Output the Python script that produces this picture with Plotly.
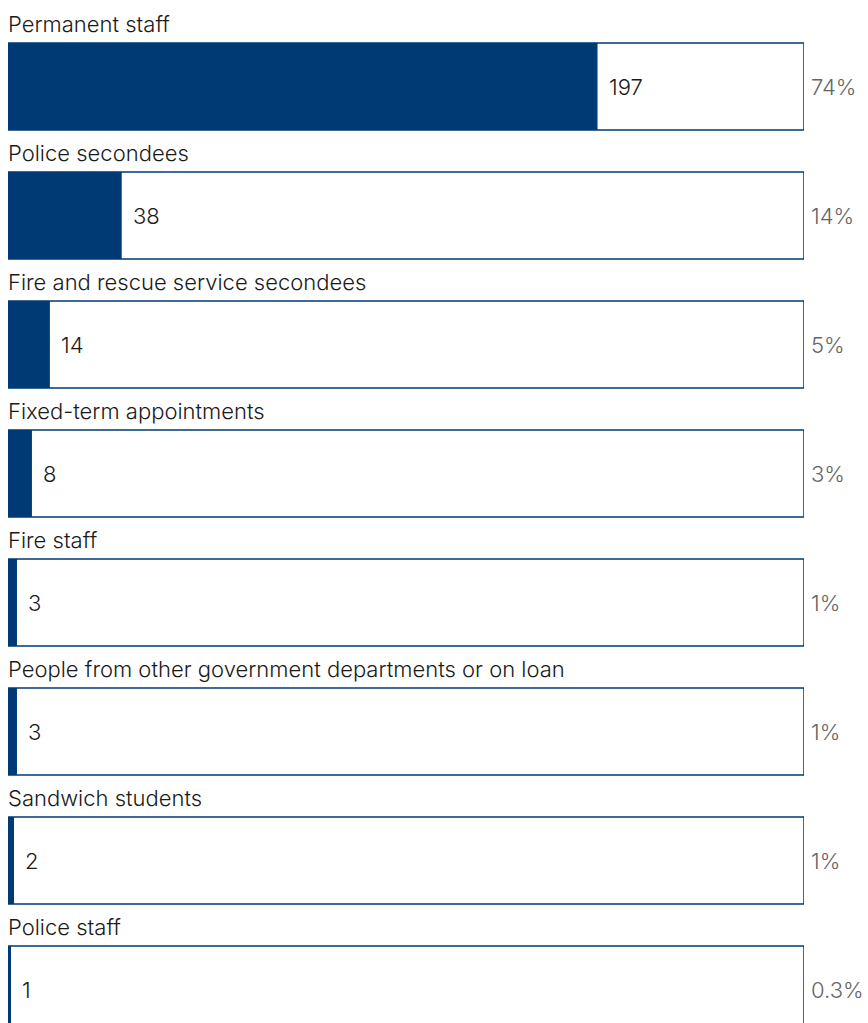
import plotly.graph_objects as go

# Staff breakdown by contract type
categories = [
    "Permanent staff",
    "Police secondees",
    "Fire and rescue service secondees",
    "Fixed-term appointments",
    "Fire staff",
    "People from other government departments or on loan",
    "Sandwich students",
    "Police staff",
]
counts = [197, 38, 14, 8, 3, 3, 2, 1]
share_labels = ["74%", "14%", "5%", "3%", "1%", "1%", "1%", "0.3%"]

total = sum(counts)
rows = list(range(len(categories)))
NAVY = "#003A74"
FONT = "Inter, Liberation Sans, Arial, sans-serif"

W, H = 868, 1023
ROW_PX = 129.0
FIRST_CENTER_PX = 86.5
BOX_PX = 87.0

fig = go.Figure()

# Outline box spanning the total headcount
fig.add_trace(go.Bar(
    x=[total] * len(rows), y=rows, orientation="h", base=0,
    width=BOX_PX / ROW_PX,
    marker=dict(color="white", line=dict(color=NAVY, width=1.5)),
    hoverinfo="skip", showlegend=False,
))
# Filled portion for each category
fig.add_trace(go.Bar(
    x=counts, y=rows, orientation="h", base=0,
    width=BOX_PX / ROW_PX,
    marker=dict(color=NAVY, line=dict(width=0)),
    hovertemplate="%{x}<extra></extra>", showlegend=False,
))

annotations = []
label_offset = 62.5 / ROW_PX
for i, (cat, n, pct) in enumerate(zip(categories, counts, share_labels)):
    annotations.append(dict(
        x=0, y=i - label_offset, xref="x", yref="y", text=cat,
        xanchor="left", yanchor="middle", xshift=-2, showarrow=False,
        font=dict(family=FONT, size=22, color="#1a1a1a", weight=300),
    ))
    annotations.append(dict(
        x=n, y=i, xref="x", yref="y", text=str(n),
        xanchor="left", yanchor="middle", xshift=9, showarrow=False,
        font=dict(family=FONT, size=22, color="#1a1a1a", weight=300),
    ))
    annotations.append(dict(
        x=total, y=i, xref="x", yref="y", text=pct,
        xanchor="left", yanchor="middle", xshift=5, showarrow=False,
        font=dict(family=FONT, size=22, color="#666666", weight=300),
    ))

y_top = -FIRST_CENTER_PX / ROW_PX
y_bottom = (H - FIRST_CENTER_PX) / ROW_PX

fig.update_layout(
    width=W, height=H,
    margin=dict(l=0, r=0, t=0, b=0),
    paper_bgcolor="white", plot_bgcolor="white",
    barmode="overlay",
    xaxis=dict(range=[0, total], domain=[8 / W, 804 / W], visible=False,
               fixedrange=True),
    yaxis=dict(range=[y_bottom, y_top], domain=[0, 1], visible=False,
               fixedrange=True),
    annotations=annotations,
)

fig.write_html("out.html")
